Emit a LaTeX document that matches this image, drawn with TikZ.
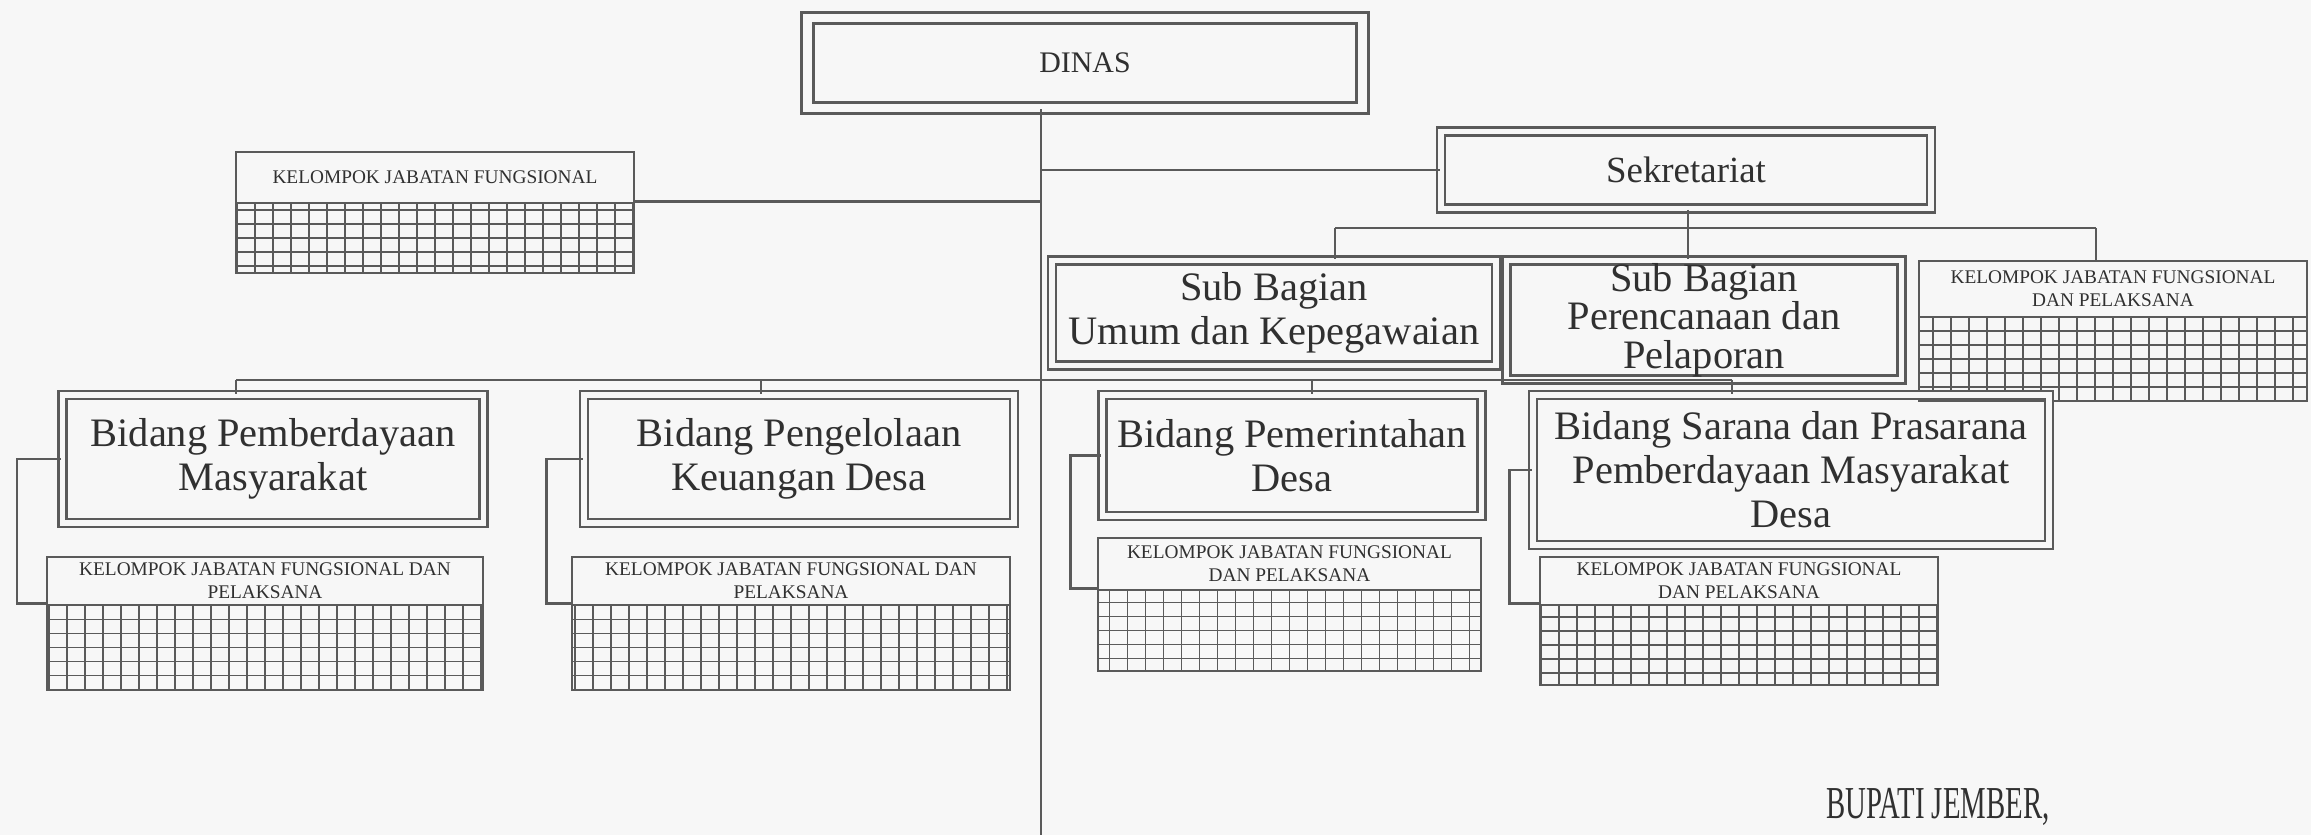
\documentclass[tikz,border=0pt]{standalone}
\usepackage{fontspec}
\setmainfont{Liberation Serif}
\usetikzlibrary{positioning}
\definecolor{bgpaper}{HTML}{F7F7F7}
\definecolor{inkline}{HTML}{5A5A5A}
\definecolor{inktext}{HTML}{303030}

\begin{document}
\begin{tikzpicture}[
    line width=0.8pt,
    unitbox/.style={draw=inkline, double=bgpaper, double distance=1.5pt, rectangle, align=center, text=inktext, inner sep=2pt, font=\fontsize{11.5}{12.5}\selectfont},
    headbox/.style={unitbox, double distance=2.5pt, font=\fontsize{8.5}{10}\selectfont},
    sekbox/.style={unitbox, font=\fontsize{10.5}{12}\selectfont},
    kjflabel/.style={draw=inkline, rectangle, align=center, text=inktext, inner sep=1pt, font=\fontsize{5.5}{6.5}\selectfont},
    kjfgrid/.style={draw=inkline, rectangle, path picture={\draw[inkline, line width=0.5pt] (path picture bounding box.south west) grid[xstep=0.18, ystep=0.14] (path picture bounding box.north east);}},
    link/.style={draw=inkline, line width=0.8pt}
]
    % paper
    \fill[bgpaper] (0,0) rectangle (23.11,-8.35);
    \useasboundingbox (0,0) rectangle (23.11,-8.35);

    % Kepala dinas
    \node[headbox, minimum width=5.55cm, minimum height=0.9cm] (dinas) at (10.85,-0.63) {DINAS};
    \coordinate (mainend) at (10.41,-8.35);
    \draw[link] (mainend |- dinas.south) -- (mainend);

    % Kelompok jabatan fungsional (atas)
    \node[kjflabel, minimum width=3.98cm, minimum height=0.51cm] (kjfTop) at (4.35,-1.775) {KELOMPOK JABATAN FUNGSIONAL};
    \node[kjfgrid, minimum width=3.98cm, minimum height=0.70cm] (kjfTopGrid) at (4.35,-2.38) {};
    \draw[link] (kjfTopGrid.north east) -- (kjfTopGrid.north east -| mainend);

    % Sekretariat
    \node[sekbox, minimum width=4.90cm, minimum height=0.77cm] (sekre) at (16.86,-1.70) {Sekretariat};
    \draw[link] (sekre.west) -- (sekre.west -| mainend);

    \coordinate (busL) at (13.35,-2.28);
    \coordinate (busM) at (16.88,-2.28);
    \coordinate (busR) at (20.96,-2.28);
    \draw[link] (sekre.south -| busM) -- (busM);
    \draw[link] (busL) -- (busR);

    % Sub bagian
    \node[unitbox, minimum width=4.44cm, minimum height=1.05cm] (subUmum) at (12.74,-3.13) {Sub Bagian\\Umum dan Kepegawaian};
    \node[unitbox, inner sep=0.5pt, font=\fontsize{11.5}{11}\selectfont, minimum width=3.95cm, minimum height=1.19cm] (subRencana) at (17.04,-3.20) {Sub Bagian\\Perencanaan dan\\Pelaporan};
    \node[kjflabel, minimum width=3.88cm, minimum height=0.56cm] (kjfSek) at (21.13,-2.89) {KELOMPOK JABATAN FUNGSIONAL\\DAN PELAKSANA};
    \node[kjfgrid, minimum width=3.88cm, minimum height=0.84cm] (kjfSekGrid) at (21.13,-3.59) {};

    \draw[link] (busL) -- (busL |- subUmum.north);
    \draw[link] (busM) -- (busM |- subRencana.north);
    \draw[link] (busR) -- (busR |- kjfSek.north);

    % Bidang
    \node[unitbox, minimum width=4.21cm, minimum height=1.28cm] (bid1) at (2.73,-4.59) {Bidang Pemberdayaan\\Masyarakat};
    \node[unitbox, minimum width=4.30cm, minimum height=1.28cm] (bid2) at (7.99,-4.59) {Bidang Pengelolaan\\Keuangan Desa};
    \node[unitbox, minimum width=3.79cm, minimum height=1.21cm] (bid3) at (12.92,-4.555) {Bidang Pemerintahan\\Desa};
    \node[unitbox, minimum width=5.16cm, minimum height=1.50cm] (bid4) at (17.91,-4.70) {Bidang Sarana dan Prasarana\\Pemberdayaan Masyarakat\\Desa};

    \coordinate (bidL) at (2.36,-3.80);
    \coordinate (bidR) at (17.32,-3.80);
    \draw[link] (bidL) -- (bidR);
    \draw[link] (bidL) -- (bidL |- bid1.north);
    \draw[link] (bid2.north -| 7.61,0) -- (bidL -| 7.61,0);
    \draw[link] (bid3.north -| 13.12,0) -- (bidL -| 13.12,0);
    \draw[link] (bidR) -- (bidR |- bid4.north);

    % Kelompok jabatan fungsional (bidang)
    \node[kjflabel, minimum width=4.36cm, minimum height=0.48cm] (kjf1) at (2.65,-5.81) {KELOMPOK JABATAN FUNGSIONAL DAN\\PELAKSANA};
    \node[kjfgrid, minimum width=4.36cm, minimum height=0.85cm] (kjfGrid1) at (2.65,-6.475) {};
    \node[kjflabel, minimum width=4.38cm, minimum height=0.48cm] (kjf2) at (7.91,-5.81) {KELOMPOK JABATAN FUNGSIONAL DAN\\PELAKSANA};
    \node[kjfgrid, minimum width=4.38cm, minimum height=0.85cm] (kjfGrid2) at (7.91,-6.475) {};
    \node[kjflabel, minimum width=3.83cm, minimum height=0.52cm] (kjf3) at (12.895,-5.64) {KELOMPOK JABATAN FUNGSIONAL\\DAN PELAKSANA};
    \node[kjfgrid, minimum width=3.83cm, minimum height=0.81cm] (kjfGrid3) at (12.895,-6.305) {};
    \node[kjflabel, minimum width=3.98cm, minimum height=0.48cm] (kjf4) at (17.39,-5.81) {KELOMPOK JABATAN FUNGSIONAL\\DAN PELAKSANA};
    \node[kjfgrid, minimum width=3.98cm, minimum height=0.80cm] (kjfGrid4) at (17.39,-6.45) {};

    \draw[link] (bid1.west) -- ++(-0.44,0) |- (kjfGrid1.north west);
    \draw[link] (bid2.west) -- ++(-0.36,0) |- (kjfGrid2.north west);
    \draw[link] (bid3.west) -- ++(-0.31,0) |- (kjfGrid3.north west);
    \draw[link] (bid4.west) -- ++(-0.22,0) |- (kjfGrid4.north west);

    % Tanda tangan
    \node[text=inktext, font=\fontsize{13}{15}\selectfont, xscale=0.63, transform shape] (bupati) at (19.38,-8.07) {BUPATI JEMBER,};

\end{tikzpicture}
\end{document}
